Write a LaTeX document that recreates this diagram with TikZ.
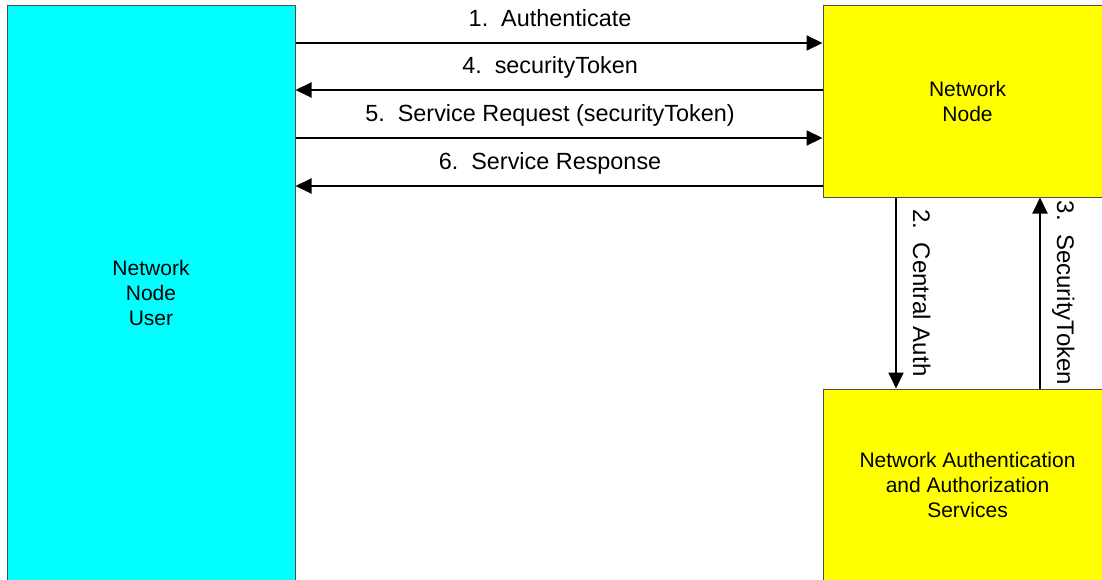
\documentclass[tikz,border=0pt]{standalone}
\usepackage{fontspec}
\setmainfont{Liberation Sans}
\usetikzlibrary{arrows.meta}

\begin{document}
\begin{tikzpicture}[x=1pt, y=-1pt,
    box/.style={draw=borderColour, line width=1pt, inner sep=0pt, align=center,
        font=\fontsize{21}{25}\selectfont},
    msg/.style={line width=2pt, -{Triangle[length=16pt, width=15pt]}},
    hlbl/.style={anchor=base, yshift=17pt, inner sep=0pt,
        font=\fontsize{23.4}{28}\selectfont},
    vlbl/.style={anchor=base, xshift=17pt, rotate=-90, inner sep=0pt,
        font=\fontsize{24}{28}\selectfont}]
    \definecolor{borderColour}{HTML}{4D4D4D}
    \definecolor{userColour}{HTML}{00FFFF}
    \definecolor{nodeColour}{HTML}{FFFF00}

    \useasboundingbox (0,0) rectangle (1102,579);
    \clip (0,0) rectangle (1102,579);

    % Boxes (they run off the page on the right and at the bottom)
    \node[box, fill=userColour, minimum width=288pt, minimum height=576pt] (user) at (151,293) {Network\\Node\\User};
    \node[box, fill=nodeColour, minimum width=289pt, minimum height=192pt] (net) at (967.5,101) {Network\\Node};
    \node[box, fill=nodeColour, minimum width=289pt, minimum height=192pt] (auth) at (967.5,485) {Network Authentication\\and Authorization\\Services};

    % Levels of the messages
    \coordinate (m1) at (0,43);
    \coordinate (m4) at (0,90);
    \coordinate (m5) at (0,138);
    \coordinate (m6) at (0,186);
    \coordinate (m2) at (896,0);
    \coordinate (m3) at (1040,0);

    % Messages between user and node
    \draw[msg] (user.east |- m1) -- (net.west |- m1) node[hlbl, pos=.483] {1.\ \ Authenticate};
    \draw[msg] (net.west |- m4) -- (user.east |- m4) node[hlbl, pos=.517] {4.\ \ securityToken};
    \draw[msg] (user.east |- m5) -- (net.west |- m5) node[hlbl, pos=.483] {5.\ \ Service Request (securityToken)};
    \draw[msg] (net.west |- m6) -- (user.east |- m6) node[hlbl, pos=.517] {6.\ \ Service Response};

    % Messages between node and auth services
    \draw[msg] (net.south -| m2) -- (auth.north -| m2) node[vlbl, midway] {2.\ \ Central Auth};
    \draw[msg] (auth.north -| m3) -- (net.south -| m3) node[vlbl, midway] {3.\ \ SecurityToken};

\end{tikzpicture}
\end{document}
